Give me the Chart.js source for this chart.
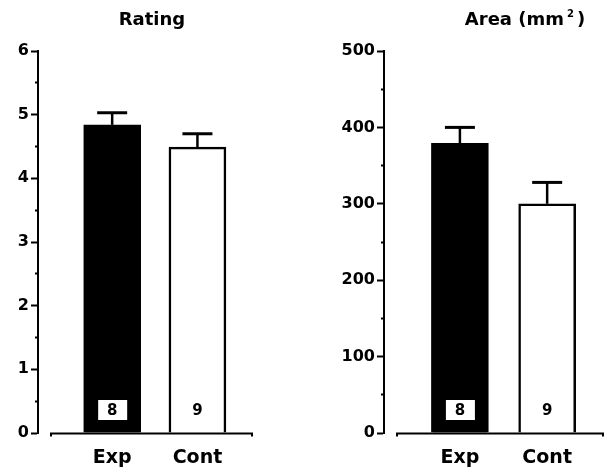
<!DOCTYPE html>
<html>
<head>
<meta charset="utf-8">
<script src="https://cdn.jsdelivr.net/npm/chart.js@4.4.0/dist/chart.umd.min.js"></script>
<style>
  html, body { margin: 0; padding: 0; background: #fff; }
  body { width: 607px; height: 473px; position: relative; overflow: hidden; }
  canvas { position: absolute; top: 0; }
  #ratingChart { left: 0; }
  #areaChart { left: 303px; }
</style>
</head>
<body>
<canvas id="ratingChart" width="256" height="473"></canvas>
<canvas id="areaChart" width="304" height="473"></canvas>
<script>
const categories = ['Exp', 'Cont'];
const sampleSizes = ['8', '9'];

const ratingMeans = [4.84, 4.49];
const ratingErrors = [0.19, 0.21];
const ratingTicks = [0, 1, 2, 3, 4, 5, 6];

const areaMeans = [379, 300];
const areaErrors = [21, 28];
const areaTicks = [0, 100, 200, 300, 400, 500];

Chart.defaults.font.family = "'DejaVu Sans', 'Liberation Sans', sans-serif";
Chart.defaults.font.weight = 'bold';
Chart.defaults.color = '#000';

// mean + error drawn as stem and cap above each bar
const errorBars = {
    id: 'errorBars',
    afterDatasetsDraw(chart) {
        const { ctx } = chart;
        const y = chart.scales.y;
        const ds = chart.data.datasets[0];
        ctx.save();
        ctx.strokeStyle = '#000';
        chart.getDatasetMeta(0).data.forEach((bar, i) => {
            const top = y.getPixelForValue(ds.data[i].y + ds.errors[i]);
            ctx.lineWidth = 2.5;
            ctx.beginPath();
            ctx.moveTo(bar.x, bar.y);
            ctx.lineTo(bar.x, top);
            ctx.stroke();
            ctx.lineWidth = 3;
            ctx.beginPath();
            ctx.moveTo(bar.x - 15, top);
            ctx.lineTo(bar.x + 15, top);
            ctx.stroke();
        });
        ctx.restore();
    }
};

// n per group written near the foot of each bar
const sampleLabels = {
    id: 'sampleLabels',
    afterDatasetsDraw(chart) {
        const { ctx } = chart;
        const cy = chart.scales.y.getPixelForValue(0) - 23;
        ctx.save();
        ctx.font = "bold 15px 'DejaVu Sans'";
        ctx.textAlign = 'center';
        ctx.textBaseline = 'middle';
        chart.getDatasetMeta(0).data.forEach((bar, i) => {
            if (i === 0) {
                ctx.fillStyle = '#fff';
                ctx.fillRect(bar.x - 14, cy - 10, 29, 20);
            }
            ctx.fillStyle = '#000';
            ctx.fillText(sampleSizes[i], bar.x, cy + 1);
        });
        ctx.restore();
    }
};

// detached x axis line with small end ticks
const baseLine = {
    id: 'baseLine',
    afterDraw(chart) {
        const { ctx, chartArea } = chart;
        const yy = chart.scales.y.getPixelForValue(0) + 0.5;
        const x0 = chartArea.left + 13;
        const x1 = chartArea.right;
        ctx.save();
        ctx.strokeStyle = '#000';
        ctx.lineWidth = 2;
        ctx.beginPath();
        ctx.moveTo(x0, yy + 3);
        ctx.lineTo(x0, yy);
        ctx.lineTo(x1, yy);
        ctx.lineTo(x1, yy + 3);
        ctx.stroke();
        ctx.restore();
    }
};

const panelTitle = {
    id: 'panelTitle',
    afterDraw(chart, args, opts) {
        const { ctx } = chart;
        ctx.save();
        ctx.fillStyle = '#000';
        ctx.textBaseline = 'alphabetic';
        ctx.textAlign = 'left';
        const big = "bold 18px 'DejaVu Sans'";
        const small = "bold 10px 'DejaVu Sans'";
        ctx.font = big;
        const w1 = ctx.measureText(opts.text).width;
        let w2 = 0, w3 = 0;
        if (opts.sup) {
            ctx.font = small;
            w2 = ctx.measureText(opts.sup).width + 6;
            ctx.font = big;
            w3 = ctx.measureText(opts.after).width;
        }
        let x = opts.x - (w1 + w2 + w3) / 2;
        ctx.fillText(opts.text, x, 25);
        if (opts.sup) {
            x += w1 + 3;
            ctx.font = small;
            ctx.fillText(opts.sup, x, 17);
            x += w2 - 3;
            ctx.font = big;
            ctx.fillText(opts.after, x, 25);
        }
        ctx.restore();
    }
};

function makePanel(id, means, errors, ticks, step, axisX, padRight, title) {
    return new Chart(document.getElementById(id), {
        type: 'bar',
        data: {
            datasets: [{
                data: categories.map((c, i) => ({ x: i, y: means[i] })),
                errors: errors,
                backgroundColor: ['#000', '#fff'],
                borderColor: '#000',
                borderWidth: 2.5,
                borderSkipped: 'start',
                barThickness: 57
            }]
        },
        options: {
            responsive: false,
            animation: false,
            layout: { padding: { top: 51, right: padRight, bottom: 0, left: 0 } },
            plugins: {
                legend: { display: false },
                tooltip: { enabled: false },
                panelTitle: title
            },
            scales: {
                x: {
                    type: 'linear',
                    min: -0.87,
                    max: 1.64,
                    offset: false,
                    border: { display: false },
                    grid: { display: false, drawTicks: false },
                    afterBuildTicks: s => { s.ticks = categories.map((c, i) => ({ value: i })); },
                    afterFit: s => { s.height = 40; },
                    ticks: {
                        autoSkip: false,
                        maxRotation: 0,
                        padding: 14,
                        font: { size: 19, weight: 'bold' },
                        callback: v => categories[v]
                    }
                },
                y: {
                    min: ticks[0],
                    max: ticks[ticks.length - 1],
                    afterFit: s => { s.width = axisX; },
                    border: { display: true, color: '#000', width: 2 },
                    grid: {
                        drawOnChartArea: false,
                        drawTicks: true,
                        tickLength: 7,
                        tickWidth: 2,
                        tickColor: '#000',
                        tickBorderDash: c => ticks.includes(c.tick.value) ? [] : [0, 4, 3, 100]
                    },
                    ticks: {
                        stepSize: step,
                        padding: 2,
                        font: { size: 16, weight: 'bold' },
                        callback: v => ticks.includes(v) ? String(v) : ''
                    }
                }
            }
        },
        plugins: [errorBars, sampleLabels, baseLine, panelTitle]
    });
}

makePanel('ratingChart', ratingMeans, ratingErrors, ratingTicks, 0.5, 38, 4,
    { text: 'Rating', x: 152 });
makePanel('areaChart', areaMeans, areaErrors, areaTicks, 50, 81, 4,
    { text: 'Area (mm', sup: '2', after: ')', x: 222 });
</script>
</body>
</html>
